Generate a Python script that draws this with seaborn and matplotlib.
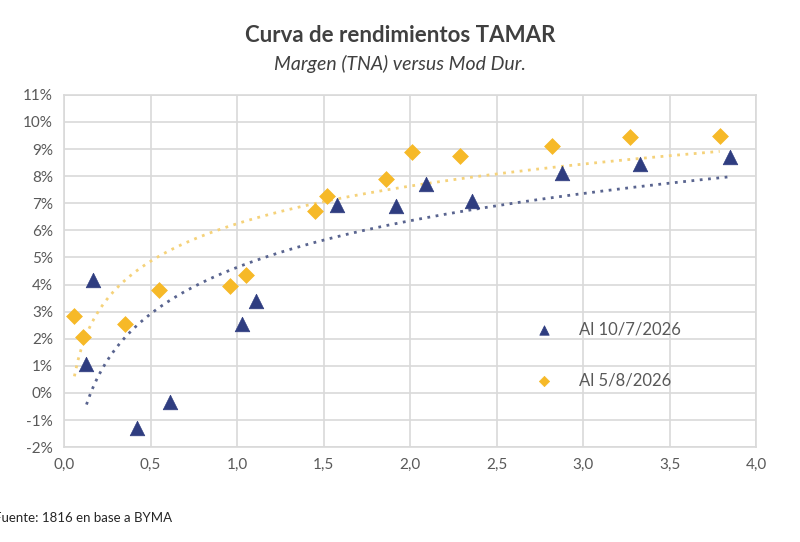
import numpy as np
import pandas as pd
import matplotlib
matplotlib.use("Agg")
import matplotlib.pyplot as plt
from matplotlib.ticker import FuncFormatter, MultipleLocator
import seaborn as sns

# data: modified duration (x) vs margin TNA in % (y)
dur_jul = [0.13, 0.17, 0.42, 0.61, 1.03, 1.11, 1.58, 1.92, 2.09, 2.36, 2.88, 3.33, 3.85]
tna_jul = [1.05, 4.15, -1.3, -0.35, 2.55, 3.4, 6.95, 6.9, 7.7, 7.1, 8.1, 8.45, 8.7]

dur_aug = [0.06, 0.11, 0.35, 0.55, 0.96, 1.05, 1.45, 1.52, 1.86, 2.01, 2.29, 2.82, 3.27, 3.79]
tna_aug = [2.85, 2.05, 2.55, 3.8, 3.95, 4.35, 6.7, 7.25, 7.9, 8.9, 8.75, 9.1, 9.45, 9.5]

label_jul = "Al 10/7/2026"
label_aug = "Al 5/8/2026"

navy = "#2f3d80"
gold = "#f6b928"

sns.set_theme(style="white")
plt.rcParams["font.family"] = ["Lato", "DejaVu Sans"]

fig = plt.figure(figsize=(8, 5.42), dpi=100)
ax = fig.add_axes([0.08, 0.175, 0.865, 0.65])

df_jul = pd.DataFrame({"dur": dur_jul, "tna": tna_jul})
df_aug = pd.DataFrame({"dur": dur_aug, "tna": tna_aug})


# logarithmic trendlines (like excel), fitted on the data
def log_trend(df):
    b, a = np.polyfit(np.log(df["dur"]), df["tna"], 1)
    xs = np.linspace(df["dur"].min(), df["dur"].max(), 200)
    return xs, a + b * np.log(xs)


xs, ys = log_trend(df_jul)
ax.plot(xs, ys, linestyle=(0, (1, 2)), color="#59648f", lw=2, zorder=2)
xs, ys = log_trend(df_aug)
ax.plot(xs, ys, linestyle=(0, (1, 2)), color="#f5d27a", lw=2, zorder=2)

sns.scatterplot(data=df_jul, x="dur", y="tna", marker="^", s=110, color=navy,
                edgecolor=navy, linewidth=0.5, label=label_jul, ax=ax, zorder=3)
sns.scatterplot(data=df_aug, x="dur", y="tna", marker="D", s=65, color=gold,
                edgecolor=gold, linewidth=0.5, label=label_aug, ax=ax, zorder=3)

ax.set_xlim(0, 4)
ax.set_ylim(-2, 11)
ax.xaxis.set_major_locator(MultipleLocator(0.5))
ax.yaxis.set_major_locator(MultipleLocator(1))
ax.xaxis.set_major_formatter(FuncFormatter(lambda v, p: f"{v:.1f}".replace(".", ",")))
ax.yaxis.set_major_formatter(FuncFormatter(lambda v, p: f"{v:.0f}%"))
ax.grid(True, color="#d9d9d9", lw=1.2)
ax.set_axisbelow(True)
for s in ax.spines.values():
    s.set_color("#d9d9d9")
    s.set_linewidth(1.2)
ax.tick_params(axis="both", labelsize=11, labelcolor="#595959", length=0, pad=8)
ax.set_xlabel("")
ax.set_ylabel("")

ax.legend(loc="center left", bbox_to_anchor=(0.648, 0.262), frameon=False,
          fontsize=12, labelcolor="#595959", handletextpad=1.1, labelspacing=2.1,
          markerscale=0.65)

fig.text(0.5, 0.935, "Curva de rendimientos TAMAR", ha="center", va="center",
         fontsize=16, fontweight="bold", color="#404040")
fig.text(0.5, 0.882, "Margen (TNA) versus Mod Dur.", ha="center", va="center",
         fontsize=14, style="italic", color="#404040")
fig.text(-0.008, 0.045, "Fuente: 1816 en base a BYMA", ha="left", va="center",
         fontsize=9.5, color="#262626")

plt.savefig("out.png", dpi=100)
